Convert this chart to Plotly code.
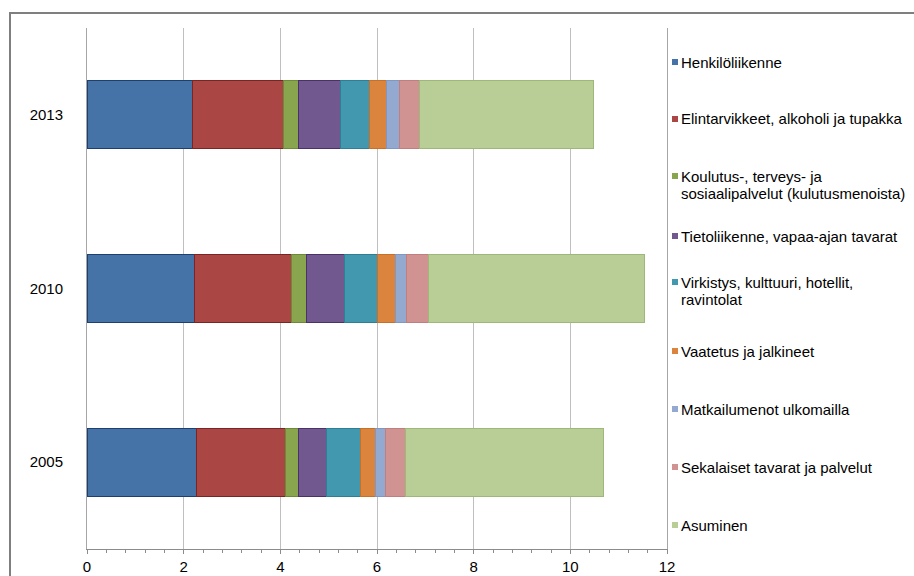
import plotly.graph_objects as go

# Household consumption by category, stacked per year
years = ["2005", "2010", "2013"]
henkiloliikenne = [2.26, 2.22, 2.18]
elintarvikkeet = [1.85, 2.01, 1.89]
koulutus = [0.27, 0.31, 0.31]
tietoliikenne = [0.58, 0.78, 0.86]
virkistys = [0.70, 0.69, 0.61]
vaatetus = [0.31, 0.38, 0.34]
matkailu = [0.21, 0.23, 0.27]
sekalaiset = [0.40, 0.45, 0.41]
asuminen = [4.10, 4.47, 3.61]

series_names = [
    "Henkilöliikenne",
    "Elintarvikkeet, alkoholi ja tupakka",
    "Koulutus-, terveys- ja<br>sosiaalipalvelut (kulutusmenoista)",
    "Tietoliikenne, vapaa-ajan tavarat",
    "Virkistys, kulttuuri, hotellit,<br>ravintolat",
    "Vaatetus ja jalkineet",
    "Matkailumenot ulkomailla",
    "Sekalaiset tavarat ja palvelut",
    "Asuminen",
]
series_values = [henkiloliikenne, elintarvikkeet, koulutus, tietoliikenne,
                 virkistys, vaatetus, matkailu, sekalaiset, asuminen]
fill_colors = ["#4572A7", "#AA4643", "#89A54E", "#71588F", "#4198AF",
               "#DB843D", "#93A9CF", "#D19392", "#B9CD96"]
edge_colors = ["#1F3F70", "#7A2423", "#6A8A35", "#4A3268", "#2E7F95",
               "#C8702A", "#7F97C2", "#C07F7E", "#9DB877"]
x_ticks = [0, 2, 4, 6, 8, 10, 12]

# Pixel geometry of the plot area (page is 914 x 576)
W, H = 914, 576
PL, PR, PT, PB = 87, 667, 28, 549


def px_x(px):
    return (px - PL) / (PR - PL)


def px_y(py):
    return (PB - py) / (PB - PT)


fig = go.Figure()
for name, vals, fc, ec in zip(series_names, series_values, fill_colors, edge_colors):
    fig.add_trace(go.Bar(
        y=years, x=vals, name=name.replace("<br>", " "), orientation="h",
        marker=dict(color=fc, line=dict(color=ec, width=1)),
        showlegend=False,
    ))

font_family = "Liberation Sans, Arial, sans-serif"

# Legend on the right: one text line per row, small colour square in front
legend_rows = [
    [62], [119], [176, 193], [236], [282, 299], [351], [409], [467], [525],
]
shapes = []
annotations = []
for name, rows, fc in zip(series_names, legend_rows, fill_colors):
    lines = name.split("<br>")
    y0 = rows[0]
    shapes.append(dict(
        type="rect", xref="paper", yref="paper",
        x0=px_x(672), x1=px_x(678), y0=px_y(y0 + 3), y1=px_y(y0 - 3),
        fillcolor=fc, line=dict(width=0),
    ))
    for line, yy in zip(lines, rows):
        annotations.append(dict(
            text=line, xref="paper", yref="paper",
            x=px_x(680), y=px_y(yy), xanchor="left", yanchor="middle",
            showarrow=False, borderpad=0,
            font=dict(family=font_family, size=15, color="#000000"),
        ))

# Outer chart frame
shapes.append(dict(
    type="rect", xref="paper", yref="paper",
    x0=px_x(10), x1=px_x(930), y0=px_y(590), y1=px_y(13),
    line=dict(color="#7F7F7F", width=2), fillcolor="rgba(0,0,0,0)", layer="below",
))

fig.update_layout(
    width=W, height=H,
    autosize=False,
    margin=dict(l=PL, r=W - PR, t=PT, b=H - PB, pad=0, autoexpand=False),
    barmode="stack",
    bargap=0.61,
    paper_bgcolor="#FFFFFF",
    plot_bgcolor="#FFFFFF",
    font=dict(family=font_family, size=15, color="#000000"),
    shapes=shapes,
    annotations=annotations,
    xaxis=dict(
        range=[0, 12], tickvals=x_ticks, ticktext=[str(t) for t in x_ticks],
        showgrid=True, gridcolor="#BFBFBF", gridwidth=1, zeroline=False,
        showline=True, linecolor="#8C8C8C", linewidth=1,
        ticks="outside", ticklen=4, tickcolor="#8C8C8C",
        minor=dict(dtick=0.4, tick0=0, ticks="outside", ticklen=3,
                   tickcolor="#8C8C8C", showgrid=False),
        tickfont=dict(size=15, color="#000000"),
        automargin=False,
        fixedrange=True,
    ),
    yaxis=dict(
        type="category", categoryorder="array", categoryarray=years,
        showgrid=False, zeroline=False,
        showline=True, mirror=True, linecolor="#A6A6A6", linewidth=1,
        ticks="", ticklabelstandoff=20,
        tickfont=dict(size=15, color="#000000"),
        automargin=False,
        fixedrange=True,
    ),
)

fig.write_html("out.html")
